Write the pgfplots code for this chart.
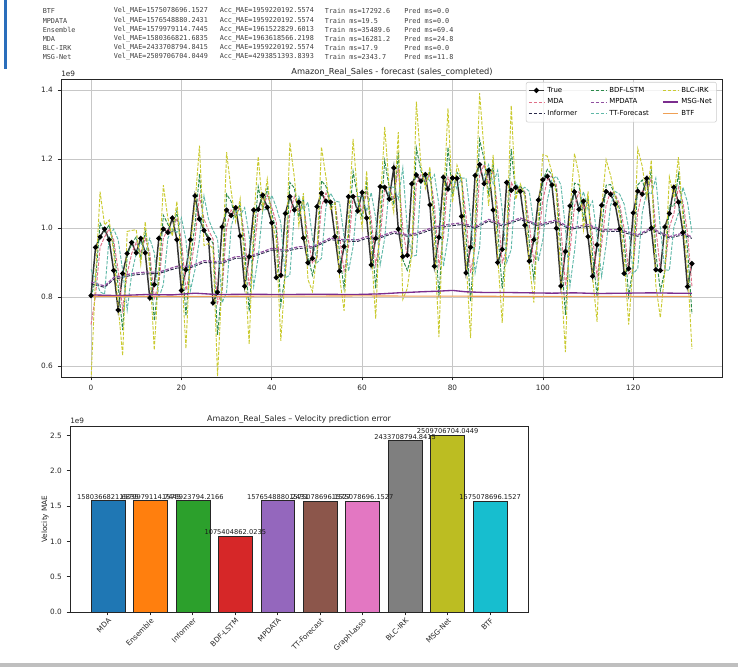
\documentclass[border=0pt]{standalone}
\usepackage{pgfplots}
\pgfplotsset{compat=1.18}
\usepackage{pgfplotstable}
\usepackage{fontspec}
\setmainfont{DejaVu Sans}
\newfontfamily\monof{DejaVu Sans Mono}
\definecolor{cMDA}{HTML}{E07088}
\definecolor{cInf}{HTML}{2A2A4A}
\definecolor{cBDF}{HTML}{2A8A4A}
\definecolor{cMPD}{HTML}{9050A0}
\definecolor{cTT}{HTML}{5FB8A8}
\definecolor{cBLC}{HTML}{CACA30}
\definecolor{cMSG}{HTML}{7B2D8E}
\definecolor{cBTF}{HTML}{EFA055}
\definecolor{t1}{HTML}{1F77B4}
\definecolor{t2}{HTML}{FF7F0E}
\definecolor{t3}{HTML}{2CA02C}
\definecolor{t4}{HTML}{D62728}
\definecolor{t5}{HTML}{9467BD}
\definecolor{t6}{HTML}{8C564B}
\definecolor{t7}{HTML}{E377C2}
\definecolor{t8}{HTML}{7F7F7F}
\definecolor{t9}{HTML}{BCBD22}
\definecolor{t10}{HTML}{17BECF}
\definecolor{nbblue}{HTML}{2A6EBB}

\pgfplotstableread{
x T mda bdf tt blc
0 0.804 0.720 0.800 0.880 0.560
1 0.944 0.804 0.850 0.850 0.860
2 0.974 0.944 1.014 0.815 1.105
3 0.997 0.974 0.989 0.808 1.009
4 0.966 0.997 1.009 0.974 1.023
5 0.877 0.966 0.950 0.997 0.930
6 0.762 0.877 0.832 0.966 0.775
7 0.868 0.762 0.704 0.877 0.630
8 0.926 0.868 0.921 0.762 0.990
9 0.958 0.926 0.955 0.868 0.993
10 0.928 0.958 0.974 0.926 0.995
11 0.970 0.928 0.913 0.958 0.894
12 0.928 0.970 0.991 0.928 1.018
13 0.797 0.928 0.907 0.970 0.880
14 0.836 0.797 0.731 0.928 0.646
15 0.970 0.836 0.856 0.797 0.881
16 0.997 0.970 1.037 0.836 1.124
17 0.987 0.997 1.011 0.970 1.028
18 1.029 0.987 0.982 0.997 0.976
19 0.966 1.029 1.050 0.987 1.077
20 0.819 0.966 0.934 1.029 0.894
21 0.879 0.819 0.745 0.966 0.650
22 0.966 0.879 0.909 0.819 0.948
23 1.093 0.966 1.010 0.879 1.066
24 1.026 1.093 1.157 0.966 1.239
25 0.993 1.026 0.992 1.093 0.949
26 0.968 0.993 0.976 1.026 0.955
27 0.783 0.968 0.955 0.993 0.939
28 0.814 0.783 0.690 0.968 0.570
29 1.003 0.814 0.830 0.783 0.850
30 1.052 1.003 1.098 0.814 1.220
31 1.036 1.052 1.077 1.003 1.108
32 1.059 1.036 1.028 1.052 1.018
33 0.977 1.059 1.071 1.036 1.085
34 0.831 0.977 0.936 1.059 0.883
35 0.917 0.831 0.758 0.977 0.663
36 1.052 0.917 0.960 0.831 1.016
37 1.054 1.052 1.120 0.917 1.207
38 1.095 1.054 1.055 1.052 1.056
39 1.060 1.095 1.116 1.054 1.142
40 1.015 1.060 1.042 1.095 1.020
41 0.856 1.015 0.992 1.060 0.963
42 0.863 0.856 0.776 1.015 0.673
43 1.042 0.863 0.867 0.856 0.871
44 1.091 1.042 1.132 0.863 1.248
45 1.052 1.091 1.116 1.042 1.147
46 1.075 1.052 1.032 1.091 1.007
47 0.971 1.075 1.087 1.052 1.101
48 0.899 0.971 0.919 1.075 0.851
49 0.912 0.899 0.863 0.971 0.816
50 1.062 0.912 0.919 0.899 0.927
51 1.101 1.062 1.137 0.912 1.235
52 1.078 1.101 1.121 1.062 1.146
53 1.075 1.078 1.066 1.101 1.052
54 0.975 1.075 1.073 1.078 1.072
55 0.875 0.975 0.925 1.075 0.860
56 0.946 0.875 0.825 0.975 0.760
57 1.091 0.946 0.982 0.875 1.028
58 1.091 1.091 1.164 0.946 1.258
59 1.049 1.091 1.091 1.091 1.091
60 1.103 1.049 1.028 1.091 1.001
61 1.029 1.103 1.130 1.049 1.165
62 0.893 1.029 0.992 1.103 0.944
63 0.970 0.893 0.825 1.029 0.737
64 1.120 0.970 1.009 0.893 1.059
65 1.118 1.120 1.195 0.970 1.293
66 1.084 1.118 1.117 1.120 1.116
67 1.174 1.084 1.067 1.118 1.045
68 0.997 1.174 1.219 1.084 1.278
69 0.917 0.997 0.908 1.174 0.793
70 0.921 0.917 0.877 0.997 0.825
71 1.128 0.921 0.923 0.917 0.926
72 1.154 1.128 1.232 0.921 1.366
73 1.136 1.154 1.167 1.128 1.184
74 1.155 1.136 1.127 1.154 1.115
75 1.067 1.155 1.165 1.136 1.177
76 0.889 1.067 1.023 1.155 0.966
77 0.973 0.889 0.800 1.067 0.684
78 1.147 0.973 1.015 0.889 1.070
79 1.113 1.147 1.234 0.973 1.347
80 1.145 1.113 1.096 1.147 1.074
81 1.144 1.145 1.161 1.113 1.182
82 1.034 1.144 1.143 1.145 1.143
83 0.870 1.034 0.979 1.144 0.908
84 0.944 0.870 0.788 1.034 0.681
85 1.152 0.944 0.981 0.870 1.029
86 1.184 1.152 1.256 0.944 1.391
87 1.128 1.184 1.200 1.152 1.221
88 1.167 1.128 1.100 1.184 1.064
89 1.052 1.167 1.187 1.128 1.212
90 0.900 1.052 0.994 1.167 0.920
91 0.938 0.900 0.824 1.052 0.725
92 1.132 0.938 0.957 0.900 0.982
93 1.109 1.132 1.229 0.938 1.355
94 1.118 1.109 1.097 1.132 1.083
95 1.106 1.118 1.123 1.109 1.128
96 1.008 1.106 1.100 1.118 1.092
97 0.904 1.008 0.959 1.106 0.895
98 0.966 0.904 0.852 1.008 0.784
99 1.081 0.966 0.997 0.904 1.037
100 1.140 1.081 1.139 0.966 1.213
101 1.150 1.140 1.170 1.081 1.208
102 1.125 1.150 1.155 1.140 1.162
103 0.999 1.125 1.112 1.150 1.096
104 0.832 0.999 0.936 1.125 0.854
105 0.932 0.832 0.748 0.999 0.640
106 1.064 0.932 0.982 0.832 1.047
107 1.105 1.064 1.130 0.932 1.216
108 1.054 1.105 1.126 1.064 1.152
109 1.078 1.054 1.028 1.105 0.995
110 0.975 1.078 1.090 1.054 1.106
111 0.860 0.975 0.923 1.078 0.857
112 0.951 0.860 0.802 0.975 0.728
113 1.066 0.951 0.997 0.860 1.056
114 1.106 1.066 1.124 0.951 1.198
115 1.098 1.106 1.126 1.066 1.152
116 1.069 1.098 1.094 1.106 1.089
117 0.997 1.069 1.054 1.098 1.036
118 0.868 0.997 0.961 1.069 0.914
119 0.882 0.868 0.803 0.997 0.720
120 1.044 0.882 0.889 0.868 0.898
121 1.107 1.044 1.125 0.882 1.230
122 1.098 1.107 1.139 1.044 1.179
123 1.144 1.098 1.093 1.107 1.088
124 1.000 1.144 1.167 1.098 1.197
125 0.879 1.000 0.928 1.144 0.834
126 0.877 0.879 0.818 1.000 0.740
127 1.003 0.877 0.876 0.879 0.875
128 1.042 1.003 1.066 0.877 1.148
129 1.118 1.042 1.062 1.003 1.087
130 1.075 1.118 1.156 1.042 1.205
131 0.987 1.075 1.053 1.118 1.026
132 0.830 0.987 0.943 1.075 0.886
133 0.897 0.830 0.751 0.987 0.649
}\maindata

\pgfplotsset{
  mpl/.style={
    scale only axis,
    axis line style={black!85, line width=0.5pt},
    tick align=outside, tick pos=left,
    major tick length=2.6pt,
    every tick/.style={black!85, line width=0.5pt},
    tick label style={font=\fontsize{5.5}{6}\selectfont, text=black!85},
    /pgf/number format/assume math mode=true,
  },
  dsh/.style={line width=0.7pt, dash pattern=on 2.6pt off 1.1pt},
}

\begin{document}
\begin{tikzpicture}
\begin{scope}[x=0.75pt,y=0.75pt]
\path (0,0) rectangle (738,667);
\fill[nbblue] (3.5,598) rectangle (6.5,667);
\fill[black!25] (0,0) rectangle (738,4);
\begin{scope}[every node/.style={anchor=west, inner sep=0pt, font=\monof\fontsize{5.1}{5.5}\selectfont, text=black!75}]
\node at (42.5,656) {BTF};
\node at (113.5,656) {Vel\_MAE=1575078696.1527};
\node at (219.5,656) {Acc\_MAE=1959220192.5574};
\node at (324.5,656) {Train ms=17292.6};
\node at (404,656) {Pred ms=0.0};
\node at (42.5,646.3) {MPDATA};
\node at (113.5,646.3) {Vel\_MAE=1576548880.2431};
\node at (219.5,646.3) {Acc\_MAE=1959220192.5574};
\node at (324.5,646.3) {Train ms=19.5};
\node at (404,646.3) {Pred ms=0.0};
\node at (42.5,637.3) {Ensemble};
\node at (113.5,637.3) {Vel\_MAE=1579979114.7445};
\node at (219.5,637.3) {Acc\_MAE=1961522829.6013};
\node at (324.5,637.3) {Train ms=35489.6};
\node at (404,637.3) {Pred ms=69.4};
\node at (42.5,628) {MDA};
\node at (113.5,628) {Vel\_MAE=1580366821.6835};
\node at (219.5,628) {Acc\_MAE=1963618566.2198};
\node at (324.5,628) {Train ms=16281.2};
\node at (404,628) {Pred ms=24.8};
\node at (42.5,619.3) {BLC-IRK};
\node at (113.5,619.3) {Vel\_MAE=2433708794.8415};
\node at (219.5,619.3) {Acc\_MAE=1959220192.5574};
\node at (324.5,619.3) {Train ms=17.9};
\node at (404,619.3) {Pred ms=0.0};
\node at (42.5,610.3) {MSG-Net};
\node at (113.5,610.3) {Vel\_MAE=2509706704.0449};
\node at (219.5,610.3) {Acc\_MAE=4293851393.8393};
\node at (324.5,610.3) {Train ms=2343.7};
\node at (404,610.3) {Pred ms=11.8};
\end{scope}
\node[font=\fontsize{6.2}{7}\selectfont, text=black!85] at (392,595) {Amazon\_Real\_Sales - forecast (sales\_completed)};
\node[font=\fontsize{5.5}{6}\selectfont, text=black!85, anchor=south west, inner sep=0pt] at (61,590.5) {1e9};
\node[font=\fontsize{6}{7}\selectfont, text=black!85] at (299,248) {Amazon\_Real\_Sales -- Velocity prediction error};
\node[font=\fontsize{5.5}{6}\selectfont, text=black!85, anchor=south west, inner sep=0pt] at (70,243) {1e9};
\node[font=\fontsize{5.5}{6}\selectfont, text=black!85, rotate=90] at (45,148) {Velocity MAE};
\end{scope}

\begin{axis}[mpl,
  at={(45.75pt,217.5pt)}, anchor=south west,
  width=495.75pt, height=223.5pt,
  xmin=-6.65, xmax=139.65, ymin=0.568, ymax=1.432,
  xtick={0,20,...,120}, ytick={0.6,0.8,1.0,1.2,1.4},
  yticklabel style={/pgf/number format/.cd, fixed, fixed zerofill, precision=1},
  grid=major, major grid style={black!22, line width=0.5pt},
  legend columns=3,
  legend cell align=left,
  legend style={at={(0.992,0.99)}, anchor=north east, draw=black!20, rounded corners=1.5pt,
    fill=white, fill opacity=0.8, text opacity=1, font=\fontsize{5.2}{6}\selectfont,
    inner sep=1.5pt, row sep=-0.6pt,
    /tikz/every even column/.append style={column sep=8pt}},
  legend image code/.code={\draw[mark repeat=2,mark phase=2,#1] plot coordinates {(0cm,0cm) (0.2cm,0cm) (0.4cm,0cm)};},
]
\addplot[black!80, line width=1.1pt, mark=*, mark size=1.3pt, mark options={black}, forget plot] table[x=x,y=T] {\maindata};
\addplot[cMDA, dsh, forget plot] table[x=x,y=mda] {\maindata};
\addplot[cInf, dsh, forget plot] coordinates {(0,0.838) (3,0.828) (5,0.851) (9,0.863) (12,0.867) (15,0.868) (19,0.884) (22,0.885) (25,0.900) (29,0.898) (32,0.912) (35,0.913) (40,0.936) (43,0.932) (46,0.941) (49,0.942) (53,0.966) (56,0.962) (59,0.961) (61,0.970) (63,0.967) (67,0.985) (70,0.976) (72,0.980) (76,0.998) (79,1.005) (82,1.010) (85,0.999) (88,1.020) (91,1.006) (95,1.024) (99,1.006) (103,1.018) (106,0.996) (110,1.005) (113,0.991) (117,0.990) (121,0.976) (124,0.995) (128,0.971) (131,0.980) (133,0.970)};
\addplot[cBDF, dsh, forget plot] table[x=x,y=bdf] {\maindata};
\addplot[cMPD, dsh, line width=0.9pt, forget plot] coordinates {(0,0.843) (3,0.832) (5,0.856) (9,0.868) (12,0.872) (15,0.872) (19,0.889) (22,0.889) (25,0.905) (29,0.902) (32,0.917) (35,0.917) (40,0.941) (43,0.936) (46,0.946) (49,0.946) (53,0.971) (56,0.966) (59,0.966) (61,0.975) (63,0.971) (67,0.990) (70,0.980) (72,0.985) (76,1.003) (79,1.010) (82,1.015) (85,1.003) (88,1.025) (91,1.010) (95,1.029) (99,1.010) (103,1.023) (106,1.000) (110,1.010) (113,0.995) (117,0.995) (121,0.980) (124,1.000) (128,0.975) (131,0.985) (133,0.974)};
\addplot[cTT, dsh, forget plot] table[x=x,y=tt] {\maindata};
\addplot[cBLC, dsh, forget plot] table[x=x,y=blc] {\maindata};
\addplot[cMSG, line width=1.0pt, forget plot] coordinates {(0,0.806) (6,0.804) (12,0.807) (18,0.806) (23,0.811) (28,0.807) (35,0.808) (42,0.807) (50,0.808) (58,0.807) (64,0.809) (68,0.812) (73,0.815) (77,0.817) (80,0.819) (83,0.815) (87,0.813) (92,0.813) (97,0.812) (102,0.811) (107,0.812) (112,0.810) (118,0.811) (124,0.812) (129,0.811) (133,0.811)};
\addplot[cBTF, line width=0.8pt, forget plot] coordinates {(0,0.802) (30,0.802) (60,0.803) (90,0.802) (120,0.802) (133,0.802)};
\addlegendimage{black!80, line width=1.1pt, mark=*, mark size=1.3pt, mark options={black}}
\addlegendentry{True}
\addlegendimage{cBDF, dsh}
\addlegendentry{BDF-LSTM}
\addlegendimage{cBLC, dsh}
\addlegendentry{BLC-IRK}
\addlegendimage{cMDA, dsh}
\addlegendentry{MDA}
\addlegendimage{cMPD, dsh}
\addlegendentry{MPDATA}
\addlegendimage{cMSG, line width=1.0pt}
\addlegendentry{MSG-Net}
\addlegendimage{cInf, dsh}
\addlegendentry{Informer}
\addlegendimage{cTT, dsh}
\addlegendentry{TT-Forecast}
\addlegendimage{cBTF, line width=0.8pt}
\addlegendentry{BTF}
\end{axis}

\begin{axis}[mpl,
  at={(52.5pt,41.25pt)}, anchor=south west,
  width=343.5pt, height=139.5pt,
  xmin=-0.89, xmax=9.89, ymin=0, ymax=2.635,
  xtick={0,...,9},
  xticklabels={MDA,Ensemble,Informer,BDF-LSTM,MPDATA,TT-Forecast,GraphLasso,BLC-IRK,MSG-Net,BTF},
  xticklabel style={rotate=45, anchor=north east, inner sep=1pt, font=\fontsize{5.4}{6}\selectfont},
  ytick={0,0.5,...,2.5},
  yticklabel style={/pgf/number format/.cd, fixed, fixed zerofill, precision=1},
  every axis plot/.append style={ybar, bar width=0.8, bar shift=0pt, draw=black!85, line width=0.4pt},
  nodes near coords style={font=\fontsize{5}{6}\selectfont, text=black!90, anchor=south, inner sep=0.6pt},
]
\addplot[fill=t1, nodes near coords={1580366821.6835}] coordinates {(0,1.5804)};
\addplot[fill=t2, nodes near coords={1579979114.7445}] coordinates {(1,1.5800)};
\addplot[fill=t3, nodes near coords={1575923794.2166}] coordinates {(2,1.5759)};
\addplot[fill=t4, nodes near coords={1075404862.0235}] coordinates {(3,1.0754)};
\addplot[fill=t5, nodes near coords={1576548880.2431}] coordinates {(4,1.5765)};
\addplot[fill=t6, nodes near coords={1575078696.1527}] coordinates {(5,1.5751)};
\addplot[fill=t7, nodes near coords={1575078696.1527}] coordinates {(6,1.5751)};
\addplot[fill=t8, nodes near coords={2433708794.8415}] coordinates {(7,2.4337)};
\addplot[fill=t9, nodes near coords={2509706704.0449}] coordinates {(8,2.5097)};
\addplot[fill=t10, nodes near coords={1575078696.1527}] coordinates {(9,1.5751)};
\end{axis}
\end{tikzpicture}
\end{document}
